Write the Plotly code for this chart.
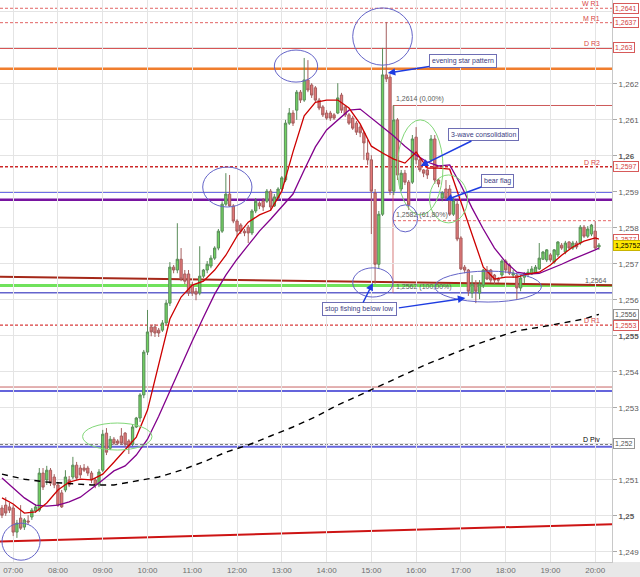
import pandas as pd
import plotly.graph_objects as go

# 5 minute candles from 06:45 to 20:05
opens = [
    1.25022, 1.25030, 1.25025, 1.25022, 1.24955, 1.24994, 1.24969, 1.24986, 1.24997, 1.25014,
    1.25016, 1.25119, 1.25100, 1.25127, 1.25108, 1.25086, 1.25064, 1.25072, 1.25100, 1.25108,
    1.25141, 1.25133, 1.25133, 1.25133, 1.25119, 1.25100, 1.25086, 1.25127, 1.25230, 1.25188,
    1.25213, 1.25208, 1.25222, 1.25230, 1.25208, 1.25199, 1.25247, 1.25272, 1.25336, 1.25455,
    1.25525, 1.25525, 1.25516, 1.25516, 1.25536, 1.25591, 1.25691, 1.25683, 1.25713, 1.25672,
    1.25672, 1.25641, 1.25624, 1.25619, 1.25666, 1.25683, 1.25694, 1.25716, 1.25744, 1.25791,
    1.25866, 1.25894, 1.25861, 1.25819, 1.25808, 1.25791, 1.25802, 1.25786, 1.25847, 1.25869,
    1.25874, 1.25874, 1.25902, 1.25861, 1.25883, 1.25908, 1.25933, 1.26091, 1.26119, 1.26127,
    1.26177, 1.26155, 1.26211, 1.26197, 1.26189, 1.26155, 1.26136, 1.26119, 1.26119, 1.26114,
    1.26119, 1.26169, 1.26136, 1.26114, 1.26105, 1.26091, 1.26080, 1.26064, 1.26008, 1.25989,
    1.25897, 1.25699, 1.25838, 1.26225, 1.26219, 1.25902, 1.26100, 1.25908, 1.25952, 1.25927,
    1.25927, 1.26052, 1.25989, 1.25961, 1.25961, 1.25989, 1.26047, 1.25933, 1.25883, 1.25908,
    1.25908, 1.25838, 1.25866, 1.25772, 1.25691, 1.25683, 1.25619, 1.25644, 1.25619, 1.25641,
    1.25683, 1.25683, 1.25669, 1.25658, 1.25669, 1.25708, 1.25697, 1.25669, 1.25669, 1.25633,
    1.25663, 1.25672, 1.25672, 1.25674, 1.25686, 1.25713, 1.25711, 1.25725, 1.25705, 1.25725,
    1.25752, 1.25733, 1.25761, 1.25744, 1.25758, 1.25758, 1.25802, 1.25777, 1.25783, 1.25791,
    1.25747]
highs = [
    1.25030, 1.25052, 1.25036, 1.25030, 1.24989, 1.25030, 1.24994, 1.25002, 1.25022, 1.25033,
    1.25133, 1.25133, 1.25139, 1.25133, 1.25116, 1.25094, 1.25072, 1.25127, 1.25111, 1.25164,
    1.25150, 1.25141, 1.25144, 1.25139, 1.25125, 1.25105, 1.25130, 1.25239, 1.25244, 1.25222,
    1.25219, 1.25213, 1.25244, 1.25233, 1.25213, 1.25255, 1.25275, 1.25341, 1.25461, 1.25572,
    1.25530, 1.25533, 1.25522, 1.25544, 1.25600, 1.25705, 1.25697, 1.25813, 1.25744, 1.25683,
    1.25683, 1.25650, 1.25633, 1.25749, 1.25686, 1.25708, 1.25724, 1.25749, 1.25797, 1.25874,
    1.25952, 1.25947, 1.25866, 1.25824, 1.25813, 1.25797, 1.25808, 1.25852, 1.25883, 1.25874,
    1.25883, 1.25908, 1.25908, 1.25894, 1.25913, 1.25944, 1.26100, 1.26133, 1.26127, 1.26183,
    1.26183, 1.26272, 1.26266, 1.26202, 1.26194, 1.26161, 1.26141, 1.26127, 1.26125, 1.26119,
    1.26202, 1.26175, 1.26141, 1.26119, 1.26111, 1.26097, 1.26086, 1.26069, 1.26044, 1.26002,
    1.25908, 1.25847, 1.26300, 1.26372, 1.26227, 1.26141, 1.26105, 1.25961, 1.25961, 1.25933,
    1.26058, 1.26080, 1.25994, 1.25963, 1.25963, 1.26058, 1.26058, 1.25936, 1.25902, 1.25933,
    1.25919, 1.25883, 1.25877, 1.25777, 1.25697, 1.25686, 1.25669, 1.25655, 1.25655, 1.25686,
    1.25694, 1.25686, 1.25672, 1.25663, 1.25713, 1.25713, 1.25702, 1.25683, 1.25672, 1.25669,
    1.25677, 1.25686, 1.25694, 1.25697, 1.25758, 1.25736, 1.25741, 1.25730, 1.25741, 1.25763,
    1.25758, 1.25764, 1.25763, 1.25764, 1.25764, 1.25808, 1.25808, 1.25805, 1.25811, 1.25819,
    1.25758]
lows = [
    1.24994, 1.25000, 1.25008, 1.24944, 1.24939, 1.24961, 1.24961, 1.24975, 1.24989, 1.25008,
    1.25011, 1.25072, 1.25086, 1.25083, 1.25077, 1.25025, 1.25022, 1.25066, 1.25080, 1.25102,
    1.25100, 1.25105, 1.25122, 1.25111, 1.25091, 1.25077, 1.25080, 1.25122, 1.25169, 1.25183,
    1.25197, 1.25197, 1.25197, 1.25191, 1.25172, 1.25194, 1.25244, 1.25261, 1.25327, 1.25447,
    1.25499, 1.25497, 1.25497, 1.25511, 1.25530, 1.25583, 1.25674, 1.25674, 1.25652, 1.25644,
    1.25611, 1.25611, 1.25599, 1.25613, 1.25661, 1.25674, 1.25688, 1.25711, 1.25738, 1.25786,
    1.25861, 1.25858, 1.25813, 1.25777, 1.25783, 1.25777, 1.25758, 1.25780, 1.25841, 1.25852,
    1.25847, 1.25869, 1.25847, 1.25858, 1.25877, 1.25902, 1.25927, 1.26086, 1.26083, 1.26100,
    1.26147, 1.26150, 1.26177, 1.26161, 1.26150, 1.26127, 1.26108, 1.26100, 1.26097, 1.26100,
    1.26116, 1.26119, 1.26108, 1.26086, 1.26072, 1.26058, 1.26052, 1.25989, 1.25975, 1.25783,
    1.25645, 1.25686, 1.25833, 1.26205, 1.25891, 1.25891, 1.25933, 1.25902, 1.25919, 1.25850,
    1.25922, 1.25977, 1.25955, 1.25941, 1.25936, 1.25983, 1.25922, 1.25913, 1.25874, 1.25877,
    1.25833, 1.25833, 1.25763, 1.25683, 1.25674, 1.25611, 1.25605, 1.25591, 1.25602, 1.25633,
    1.25655, 1.25647, 1.25644, 1.25647, 1.25661, 1.25674, 1.25669, 1.25661, 1.25600, 1.25624,
    1.25647, 1.25663, 1.25669, 1.25672, 1.25683, 1.25711, 1.25705, 1.25705, 1.25700, 1.25719,
    1.25739, 1.25727, 1.25739, 1.25739, 1.25741, 1.25752, 1.25772, 1.25772, 1.25777, 1.25739,
    1.25739]
closes = [
    1.25002, 1.25008, 1.25016, 1.24955, 1.24980, 1.24966, 1.24989, 1.24983, 1.25016, 1.25025,
    1.25119, 1.25080, 1.25127, 1.25091, 1.25086, 1.25030, 1.25025, 1.25108, 1.25086, 1.25141,
    1.25105, 1.25114, 1.25127, 1.25119, 1.25100, 1.25086, 1.25122, 1.25227, 1.25177, 1.25213,
    1.25202, 1.25202, 1.25202, 1.25199, 1.25194, 1.25247, 1.25272, 1.25336, 1.25455, 1.25511,
    1.25511, 1.25508, 1.25508, 1.25536, 1.25591, 1.25691, 1.25683, 1.25713, 1.25658, 1.25652,
    1.25619, 1.25619, 1.25616, 1.25666, 1.25683, 1.25699, 1.25716, 1.25744, 1.25791, 1.25866,
    1.25894, 1.25861, 1.25819, 1.25791, 1.25791, 1.25786, 1.25786, 1.25847, 1.25874, 1.25861,
    1.25858, 1.25902, 1.25858, 1.25886, 1.25908, 1.25939, 1.26091, 1.26119, 1.26091, 1.26177,
    1.26155, 1.26211, 1.26183, 1.26169, 1.26155, 1.26133, 1.26114, 1.26105, 1.26105, 1.26105,
    1.26161, 1.26127, 1.26114, 1.26091, 1.26077, 1.26066, 1.26064, 1.26036, 1.25989, 1.25902,
    1.25699, 1.25838, 1.26225, 1.26214, 1.25902, 1.26100, 1.25947, 1.25952, 1.25927, 1.25864,
    1.26047, 1.25989, 1.25961, 1.25952, 1.25947, 1.26047, 1.25933, 1.25922, 1.25897, 1.25883,
    1.25838, 1.25877, 1.25769, 1.25686, 1.25683, 1.25624, 1.25644, 1.25624, 1.25644, 1.25683,
    1.25658, 1.25655, 1.25655, 1.25655, 1.25708, 1.25683, 1.25674, 1.25674, 1.25633, 1.25661,
    1.25672, 1.25677, 1.25686, 1.25691, 1.25716, 1.25733, 1.25739, 1.25711, 1.25739, 1.25761,
    1.25744, 1.25758, 1.25744, 1.25758, 1.25747, 1.25802, 1.25777, 1.25797, 1.25808, 1.25744,
    1.25752]
times = pd.date_range("2013-03-20 06:45", periods=len(closes), freq="5min")

ma_steps = list(range(0, 160, 3)) + [160]
ma_fast = [
    1.25050, 1.25033, 1.25008, 1.25011, 1.25036, 1.25072, 1.25094, 1.25102, 1.25100, 1.25116,
    1.25149, 1.25183, 1.25219, 1.25294, 1.25419, 1.25547, 1.25608, 1.25641, 1.25652, 1.25683,
    1.25724, 1.25777, 1.25816, 1.25836, 1.25849, 1.25902, 1.26011, 1.26111, 1.26149, 1.26155,
    1.26155, 1.26133, 1.26089, 1.26027, 1.26008, 1.25991, 1.25980, 1.26011, 1.25966, 1.25966,
    1.25963, 1.25874, 1.25783, 1.25691, 1.25658, 1.25663, 1.25663, 1.25672, 1.25677, 1.25697,
    1.25724, 1.25747, 1.25763, 1.25772, 1.25769]
ma_slow = [
    1.25105, 1.25077, 1.25050, 1.25030, 1.25027, 1.25030, 1.25039, 1.25052, 1.25075, 1.25100,
    1.25125, 1.25139, 1.25169, 1.25213, 1.25277, 1.25347, 1.25419, 1.25486, 1.25552, 1.25616,
    1.25669, 1.25713, 1.25752, 1.25791, 1.25824, 1.25858, 1.25894, 1.25961, 1.26025, 1.26072,
    1.26099, 1.26127, 1.26130, 1.26105, 1.26080, 1.26055, 1.26027, 1.26002, 1.25983, 1.25972,
    1.25975, 1.25919, 1.25855, 1.25797, 1.25744, 1.25705, 1.25677, 1.25672, 1.25674, 1.25686,
    1.25699, 1.25713, 1.25725, 1.25739, 1.25744]
# long dashed average, every 6th candle
ma_long_steps = list(range(0, 160, 6)) + [160]
ma_long = [
    1.25116, 1.25102, 1.25094, 1.25089, 1.25086, 1.25086, 1.25097, 1.25108, 1.25127, 1.25150,
    1.25177, 1.25197, 1.25222, 1.25247, 1.25275, 1.25308, 1.25336, 1.25364, 1.25394, 1.25422,
    1.25447, 1.25472, 1.25494, 1.25514, 1.25524, 1.25536, 1.25547, 1.25560]

pivot_names = ["W R1", "M R1", "D R3", "D R2", "D R1", "D Piv"]
pivot_prices = [1.2641, 1.2637, 1.2630, 1.2597, 1.2553, 1.2520]
level_prices = [1.26242, 1.2590, 1.25878, 1.2564, 1.2562, 1.25358, 1.25347, 1.25192]
fib_prices = [1.2614, 1.2582, 1.2562]
fib_pcts = ["0,00%", "61,80%", "100,00%"]
trend_top = [1.25664, 1.25641]
trend_bottom = [1.24929, 1.24977]

y_ticks = [1.249, 1.250, 1.251, 1.252, 1.253, 1.254, 1.255, 1.256,
           1.257, 1.258, 1.259, 1.260, 1.261, 1.262, 1.263, 1.264]
# 1,252 / 1,263 / 1,264 sit under the level boxes
y_ticktext = ["1,249", "<b>1,25</b>", "1,251", "", "1,253", "1,254", "<b>1,255</b>", "1,256",
              "1,257", "1,258", "1,259", "<b>1,26</b>", "1,261", "1,262", "", ""]

DAY = "2013-03-20 "
t_start, t_end = DAY + "06:42:20", DAY + "20:22:30"
FONT = "Liberation Sans"


def fmt(p, nd=4):
    return f"{p:.{nd}f}".rstrip("0").replace(".", ",")


fig = go.Figure()
fig.add_trace(go.Candlestick(
    x=times, open=opens, high=highs, low=lows, close=closes,
    increasing=dict(fillcolor="rgb(112,210,96)", line=dict(color="rgb(90,140,90)", width=1)),
    decreasing=dict(fillcolor="rgb(228,120,120)", line=dict(color="rgb(165,95,95)", width=1)),
    hoverinfo="skip", showlegend=False))

fig.add_trace(go.Scatter(x=times[ma_long_steps], y=ma_long, mode="lines",
                         line=dict(color="black", width=1.4, dash="6px,5px"), showlegend=False))
fig.add_trace(go.Scatter(x=times[ma_steps], y=ma_slow, mode="lines",
                         line=dict(color="rgb(130,0,140)", width=1.3), showlegend=False))
fig.add_trace(go.Scatter(x=times[ma_steps], y=ma_fast, mode="lines",
                         line=dict(color="rgb(205,0,0)", width=1.3), showlegend=False))

shapes = []
pivot_styles = [
    dict(color="rgb(225,100,100)", width=1, dash="3px,2px"),
    dict(color="rgb(225,100,100)", width=1, dash="3px,2px"),
    dict(color="rgb(215,85,85)", width=2),
    dict(color="rgb(205,40,40)", width=1.4, dash="3px,2px"),
    dict(color="rgb(215,60,60)", width=1.2, dash="3px,2px"),
    dict(color="black", width=1.4, dash="3px,2px"),
]
for p, st in zip(pivot_prices, pivot_styles):
    shapes.append(dict(type="line", xref="paper", x0=0, x1=1, yref="y", y0=p, y1=p,
                       line=st, layer="below"))

level_styles = [
    dict(color="rgb(240,125,45)", width=2.5),
    dict(color="rgb(110,110,230)", width=2),
    dict(color="rgb(120,20,160)", width=2.5),
    dict(color="rgb(112,226,92)", width=3),
    dict(color="rgb(100,100,205)", width=1.5),
    dict(color="rgb(200,100,100)", width=1),
    dict(color="rgb(100,100,220)", width=2),
    dict(color="rgb(100,100,220)", width=2),
]
for p, st in zip(level_prices, level_styles):
    shapes.append(dict(type="line", xref="paper", x0=0, x1=1, yref="y", y0=p, y1=p,
                       line=st, layer="below"))

# sloped trend lines
shapes.append(dict(type="line", xref="x", yref="y", x0=t_start, x1=t_end,
                   y0=trend_top[0], y1=trend_top[1], line=dict(color="rgb(165,40,25)", width=2),
                   layer="below"))
shapes.append(dict(type="line", xref="x", yref="y", x0=t_start, x1=t_end,
                   y0=trend_bottom[0], y1=trend_bottom[1], line=dict(color="rgb(205,20,20)", width=2),
                   layer="below"))

# fibonacci retracement
fib_x0 = DAY + "15:29"
fib_styles = [dict(color="rgb(205,90,90)", width=1),
              dict(color="rgb(230,100,100)", width=1, dash="3px,2px"),
              dict(color="rgb(100,100,205)", width=1)]
for p, st in zip(fib_prices, fib_styles):
    shapes.append(dict(type="line", xref="x", yref="y", x0=fib_x0, x1=t_end, y0=p, y1=p,
                       line=st, layer="below"))
shapes.append(dict(type="line", xref="x", yref="y", x0=fib_x0, x1=fib_x0,
                   y0=fib_prices[2], y1=fib_prices[0],
                   line=dict(color="rgb(205,90,90)", width=0.8), layer="below"))

# highlighted areas
blue_ring = dict(color="rgb(100,100,200)", width=1)
green_ring = dict(color="rgb(130,215,120)", width=1)
rings = [
    ("06:45", "07:36", 1.24877, 1.24980, blue_ring),
    ("12:50", "13:48", 1.26205, 1.26294, blue_ring),
    ("14:35", "15:55", 1.26252, 1.26411, blue_ring),
    ("11:14", "12:20", 1.25858, 1.25969, blue_ring),
    ("08:33", "10:06", 1.25183, 1.25258, green_ring),
    ("15:35", "16:36", 1.25836, 1.26100, green_ring),
    ("16:18", "17:09", 1.25814, 1.25947, green_ring),
    ("15:29", "16:02", 1.25789, 1.25864, blue_ring),
    ("14:35", "15:29", 1.25608, 1.25689, blue_ring),
    ("16:25", "18:48", 1.25594, 1.25680, blue_ring),
]
for a, b, lo, hi, st in rings:
    shapes.append(dict(type="circle", xref="x", yref="y", x0=DAY + a, x1=DAY + b,
                       y0=lo, y1=hi, line=st, layer="above"))

# grey strip under the time axis
shapes.append(dict(type="rect", xref="paper", yref="paper", x0=0, x1=1.05, y0=-0.03, y1=0,
                   fillcolor="rgb(232,232,232)", line=dict(width=0), layer="below"))

ann = []
for name, p, st in zip(pivot_names, pivot_prices, pivot_styles):
    col = "black" if name == "D Piv" else "rgb(215,70,70)"
    ann.append(dict(xref="paper", x=0.982, xanchor="right", yref="y", y=p, yanchor="bottom",
                    text=name, showarrow=False, borderpad=0,
                    font=dict(size=7, color=col, family=FONT)))

for p, pct in zip(fib_prices, fib_pcts):
    ann.append(dict(xref="x", x=DAY + "15:30", xanchor="left", yref="y", y=p, yanchor="bottom",
                    text=f"{fmt(p)} ({pct})", showarrow=False,
                    font=dict(size=7, color="rgb(90,90,90)", family=FONT)))
ann.append(dict(xref="paper", x=0.995, xanchor="right", yref="y", y=level_prices[3],
                yanchor="bottom", text=fmt(level_prices[3]), showarrow=False,
                font=dict(size=7, color="rgb(90,90,90)", family=FONT)))

red_box = dict(bordercolor="rgb(215,90,90)", font=dict(size=7, color="rgb(210,60,60)", family=FONT))
grey_box = dict(bordercolor="rgb(150,150,150)", font=dict(size=7, color="rgb(80,80,80)", family=FONT))
axis_boxes = [(fmt(p), p, red_box) for p in pivot_prices[:5]]
axis_boxes += [(fmt(ma_fast[-1]), ma_fast[-1], red_box),
               (fmt(ma_long[-1]), ma_long[-1], grey_box),
               (fmt(pivot_prices[5]), pivot_prices[5], grey_box)]
for txt, p, st in axis_boxes:
    ann.append(dict(xref="paper", x=1.002, xanchor="left", yref="y", y=p, yanchor="middle",
                    text=txt, showarrow=False, bgcolor="white", borderwidth=1, borderpad=1, **st))
ann.append(dict(xref="paper", x=1.002, xanchor="left", yref="y", y=closes[-1], yanchor="middle",
                text=fmt(closes[-1], 5), showarrow=False, bgcolor="rgb(255,232,0)",
                bordercolor="rgb(200,180,0)", borderwidth=1, borderpad=1,
                font=dict(size=7, color="black", family=FONT)))

# notes with arrows (ax/ay in pixels from the arrow tip)
notes = [
    ("evening star pattern", "15:22", 1.26230, 75, -12),
    ("3-wave consolidation", "16:06", 1.25972, 63, -31),
    ("bear flag", "16:39", 1.25877, 52, -19),
    ("stop fishing below low", "15:02", 1.25647, -13, 26),
]
for txt, t, p, dx, dy in notes:
    ann.append(dict(xref="x", x=DAY + t, yref="y", y=p, ax=dx, ay=dy, text=txt,
                    showarrow=True, arrowhead=2, arrowsize=1, arrowwidth=1.5,
                    arrowcolor="rgb(30,60,225)", bgcolor="white", bordercolor="rgb(110,110,180)",
                    borderwidth=1, borderpad=2,
                    font=dict(size=7, color="rgb(60,60,130)", family=FONT)))
ann.append(dict(xref="x", x=DAY + "17:06", yref="y", y=1.25605, ax=-68, ay=10, text="",
                showarrow=True, arrowhead=2, arrowsize=1, arrowwidth=1.5,
                arrowcolor="rgb(30,60,225)"))

fig.update_layout(
    width=640, height=577,
    margin=dict(l=0, r=28, t=0, b=15),
    paper_bgcolor="white", plot_bgcolor="white",
    boxgap=0.12,
    shapes=shapes, annotations=ann,
    font=dict(family=FONT, size=8, color="rgb(90,90,90)"),
    xaxis=dict(type="date", range=[t_start, t_end], rangeslider=dict(visible=False),
               tickformat="%H:%M", dtick=3600000, tick0=DAY + "07:00",
               showgrid=True, gridcolor="rgb(228,228,228)", gridwidth=1,
               showline=True, linecolor="rgb(200,200,200)", ticks="",
               tickfont=dict(size=8, color="rgb(110,110,110)")),
    yaxis=dict(side="right", range=[1.24872, 1.26433], tickvals=y_ticks, ticktext=y_ticktext,
               showgrid=True, gridcolor="rgb(228,228,228)", zeroline=False,
               showline=True, linecolor="rgb(200,200,200)", ticks="outside", ticklen=4,
               tickcolor="rgb(170,170,170)",
               tickfont=dict(size=8, color="rgb(90,90,90)")),
)

# the page body has a default 8px margin; drop it so the figure fills the window
fig.write_html("out.html", config={"displayModeBar": False},
               post_script="document.body.style.margin='0px';document.body.style.overflow='hidden';")
